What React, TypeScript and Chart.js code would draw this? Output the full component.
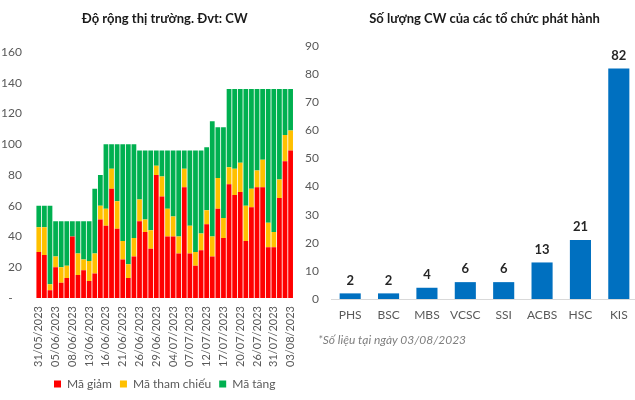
import React, { useEffect, useRef } from 'react';
import { Chart, registerables } from 'chart.js';
Chart.register(...registerables);

const dates = [
  '31/05/2023', '01/06/2023', '02/06/2023', '05/06/2023', '06/06/2023', '07/06/2023',
  '08/06/2023', '09/06/2023', '12/06/2023', '13/06/2023', '14/06/2023', '15/06/2023',
  '16/06/2023', '19/06/2023', '20/06/2023', '21/06/2023', '22/06/2023', '23/06/2023',
  '26/06/2023', '27/06/2023', '28/06/2023', '29/06/2023', '30/06/2023', '03/07/2023',
  '04/07/2023', '05/07/2023', '06/07/2023', '07/07/2023', '10/07/2023', '11/07/2023',
  '12/07/2023', '13/07/2023', '14/07/2023', '17/07/2023', '18/07/2023', '19/07/2023',
  '20/07/2023', '21/07/2023', '25/07/2023', '26/07/2023', '27/07/2023', '28/07/2023',
  '31/07/2023', '01/08/2023', '02/08/2023', '03/08/2023',
];
const maGiam = [30, 28, 5, 20, 10, 13, 40, 15, 18, 11, 16, 51, 47, 71, 45, 25, 13, 27, 50, 43, 32, 80, 66, 40, 40, 29, 72, 29, 21, 31, 48, 27, 58, 39, 74, 67, 69, 37, 59, 72, 72, 33, 33, 65, 89, 96];
const maThamChieu = [16, 18, 4, 7, 10, 8, 0, 14, 7, 13, 13, 9, 11, 13, 18, 12, 9, 12, 14, 8, 12, 6, 13, 18, 13, 11, 12, 18, 9, 11, 9, 13, 20, 13, 11, 17, 19, 23, 12, 11, 18, 16, 10, 12, 17, 13];
const maTang = [14, 14, 51, 23, 30, 29, 10, 21, 25, 26, 42, 20, 42, 16, 37, 63, 78, 61, 32, 45, 52, 10, 17, 38, 43, 56, 12, 49, 66, 54, 41, 75, 33, 59, 51, 52, 48, 76, 65, 53, 46, 87, 93, 59, 30, 27];

const issuers = ['PHS', 'BSC', 'MBS', 'VCSC', 'SSI', 'ACBS', 'HSC', 'KIS'];
const cwCounts = [2, 2, 4, 6, 6, 13, 21, 82];

const leftTitle = 'Độ rộng thị trường. Đvt: CW';
const rightTitle = 'Số lượng CW của các tổ chức phát hành';
const footnote = '*Số liệu tại ngày 03/08/2023';

const FONT = 'Lato, "Open Sans", sans-serif';
const TICK = '#595959';

const valueLabels = {
  id: 'valueLabels',
  afterDatasetsDraw(chart: any) {
    const ctx = chart.ctx;
    const meta = chart.getDatasetMeta(0);
    const data = chart.data.datasets[0].data;
    ctx.save();
    ctx.font = `bold 13px ${FONT}`;
    ctx.fillStyle = '#262626';
    ctx.textAlign = 'center';
    ctx.textBaseline = 'middle';
    meta.data.forEach((el: any, i: number) => {
      ctx.fillText(String(data[i]), el.x, el.y - 13);
    });
    ctx.restore();
  },
};

export default function App() {
  const leftRef = useRef<HTMLCanvasElement>(null);
  const rightRef = useRef<HTMLCanvasElement>(null);

  useEffect(() => {
    const left = new Chart(leftRef.current!, {
      type: 'bar',
      data: {
        labels: dates,
        datasets: [
          { label: 'Mã giảm', data: maGiam, backgroundColor: '#FF0000', barPercentage: 0.85, categoryPercentage: 1 },
          { label: 'Mã tham chiếu', data: maThamChieu, backgroundColor: '#FFC000', barPercentage: 0.85, categoryPercentage: 1 },
          { label: 'Mã tăng', data: maTang, backgroundColor: '#00B050', barPercentage: 0.85, categoryPercentage: 1 },
        ],
      },
      options: {
        responsive: false,
        animation: false,
        layout: { padding: { left: 0, right: 14, top: 0, bottom: 0 } },
        plugins: {
          title: {
            display: true,
            text: leftTitle,
            fullSize: false,
            color: '#1a1a1a',
            font: { family: FONT, size: 13, weight: 'bold' },
            padding: { top: 11, bottom: 25.4 },
          },
          legend: {
            display: true,
            position: 'bottom',
            fullSize: false,
            labels: {
              boxWidth: 7,
              boxHeight: 7,
              padding: 8,
              color: TICK,
              font: { family: FONT, size: 12 },
            },
          },
          tooltip: { enabled: false },
        },
        scales: {
          x: {
            stacked: true,
            grid: { display: false, drawTicks: false },
            border: { display: false },
            ticks: {
              autoSkip: false,
              minRotation: 90,
              maxRotation: 90,
              padding: 8,
              color: TICK,
              font: { family: FONT, size: 11 },
              callback: function (this: any, val: any, index: number) {
                return index % 3 === 0 ? this.getLabelForValue(val) : '';
              },
            },
            afterFit: (s: any) => { s.height = 72; },
          },
          y: {
            stacked: true,
            min: 0,
            max: 160,
            grid: { display: false, drawTicks: false },
            border: { display: false },
            ticks: {
              stepSize: 20,
              padding: 14,
              color: TICK,
              font: { family: FONT, size: 12 },
              callback: (v: any) => (v === 0 ? '-   ' : String(v)),
            },
            afterFit: (s: any) => { s.width = 36; },
          },
        },
      },
    });

    const right = new Chart(rightRef.current!, {
      type: 'bar',
      data: {
        labels: issuers,
        datasets: [
          { label: 'Số lượng CW', data: cwCounts, backgroundColor: '#0070C0', barPercentage: 0.55, categoryPercentage: 1 },
        ],
      },
      plugins: [valueLabels],
      options: {
        responsive: false,
        animation: false,
        layout: { padding: { left: 0, right: 2, top: 0, bottom: 0 } },
        plugins: {
          title: {
            display: true,
            text: rightTitle,
            fullSize: false,
            color: '#1a1a1a',
            font: { family: FONT, size: 13, weight: 'bold' },
            padding: { top: 11, bottom: 19.4 },
          },
          legend: { display: false },
          tooltip: { enabled: false },
        },
        scales: {
          x: {
            grid: { display: false, drawTicks: false },
            border: { display: true, color: '#d9d9d9', width: 1 },
            ticks: {
              padding: 9,
              color: TICK,
              font: { family: FONT, size: 12 },
            },
            afterFit: (s: any) => { s.height = 101; },
          },
          y: {
            min: 0,
            max: 90,
            grid: { display: false, drawTicks: false },
            border: { display: false },
            ticks: {
              stepSize: 10,
              padding: 12,
              color: TICK,
              font: { family: FONT, size: 12 },
            },
            afterFit: (s: any) => { s.width = 31; },
          },
        },
      },
    });

    return () => {
      left.destroy();
      right.destroy();
    };
  }, []);

  return (
    <div style={{ position: 'absolute', left: 0, top: 0, width: 635, height: 400, overflow: 'hidden', background: '#ffffff' }}>
      <canvas ref={leftRef} width={312} height={400} style={{ position: 'absolute', left: 0, top: 0 }} />
      <canvas ref={rightRef} width={340} height={400} style={{ position: 'absolute', left: 300, top: 0 }} />
      <div
        style={{
          position: 'absolute',
          left: 318,
          top: 332,
          fontFamily: FONT,
          fontStyle: 'italic',
          fontSize: 12,
          lineHeight: '16px',
          color: '#7f7f7f',
          whiteSpace: 'nowrap',
        }}
      >
        {footnote}
      </div>
    </div>
  );
}
